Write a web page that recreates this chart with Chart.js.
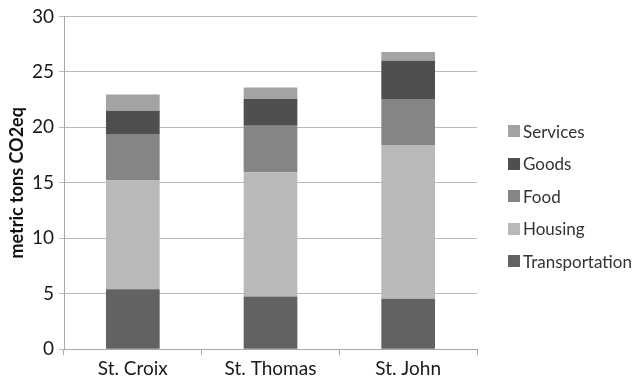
<!DOCTYPE html>
<html>
<head>
<meta charset="utf-8">
<script src="https://cdn.jsdelivr.net/npm/chart.js@4"></script>
<style>
  html, body { margin: 0; padding: 0; background: #fff; }
  #wrap { position: relative; width: 635px; height: 382px; }
  #legend { position: absolute; left: 508px; top: 115px; font-family: Lato, sans-serif; font-size: 17px; color: #333; }
  #legend div { height: 32.5px; display: flex; align-items: center; }
  #legend span.box { width: 12px; height: 12px; margin-right: 3px; display: inline-block; }
</style>
</head>
<body>
<div id="wrap">
  <canvas id="chart" width="635" height="382"></canvas>
  <div id="legend"></div>
</div>
<script>
// Data
const islands = ["St. Croix", "St. Thomas", "St. John"];
const transportation = [5.4, 4.75, 4.55];
const housing = [9.8, 11.2, 13.85];
const food = [4.2, 4.2, 4.15];
const goods = [2.1, 2.4, 3.45];
const services = [1.45, 1.05, 0.8];
const yTicks = [0, 5, 10, 15, 20, 25, 30];

const seriesNames = ["Transportation", "Housing", "Food", "Goods", "Services"];
const seriesData = [transportation, housing, food, goods, services];
const seriesColors = ["#626262", "#b9b9b9", "#858585", "#4f4f4f", "#a3a3a3"];

const datasets = seriesNames.map((name, i) => ({
  label: name,
  data: seriesData[i],
  backgroundColor: seriesColors[i],
  borderWidth: 0,
  categoryPercentage: 1,
  barPercentage: 0.39,
}));

const ctx = document.getElementById("chart").getContext("2d");
new Chart(ctx, {
  type: "bar",
  data: { labels: islands, datasets: datasets },
  options: {
    responsive: false,
    animation: false,
    layout: { padding: { top: 16, right: 158, bottom: 0, left: 0 } },
    plugins: { legend: { display: false }, tooltip: { enabled: false } },
    scales: {
      x: {
        stacked: true,
        grid: { drawOnChartArea: false, drawTicks: true, tickLength: 6, color: "#a8a8a8" },
        border: { color: "#a8a8a8" },
        ticks: { color: "#1a1a1a", font: { family: "Lato", size: 19 }, padding: 2 },
      },
      y: {
        stacked: true,
        min: 0,
        max: 30,
        afterBuildTicks: (scale) => {
          scale.ticks = yTicks.map((v) => ({ value: v }));
        },
        afterFit: (scale) => { scale.width = 64; },
        grid: { color: "#b8b8b8", tickLength: 5 },
        border: { color: "#a8a8a8" },
        ticks: { color: "#1a1a1a", font: { family: "Lato", size: 19 }, padding: 5 },
        title: {
          display: true,
          text: "metric tons CO2eq",
          color: "#111",
          font: { family: "Lato", size: 18, weight: "bold" },
          padding: { top: 6, bottom: 0 },
        },
      },
    },
  },
});

// Legend (reverse order, like the stack)
const legendEl = document.getElementById("legend");
for (let i = seriesNames.length - 1; i >= 0; i--) {
  const row = document.createElement("div");
  row.innerHTML = `<span class="box" style="background:${seriesColors[i]}"></span>${seriesNames[i]}`;
  legendEl.appendChild(row);
}
</script>
</body>
</html>
